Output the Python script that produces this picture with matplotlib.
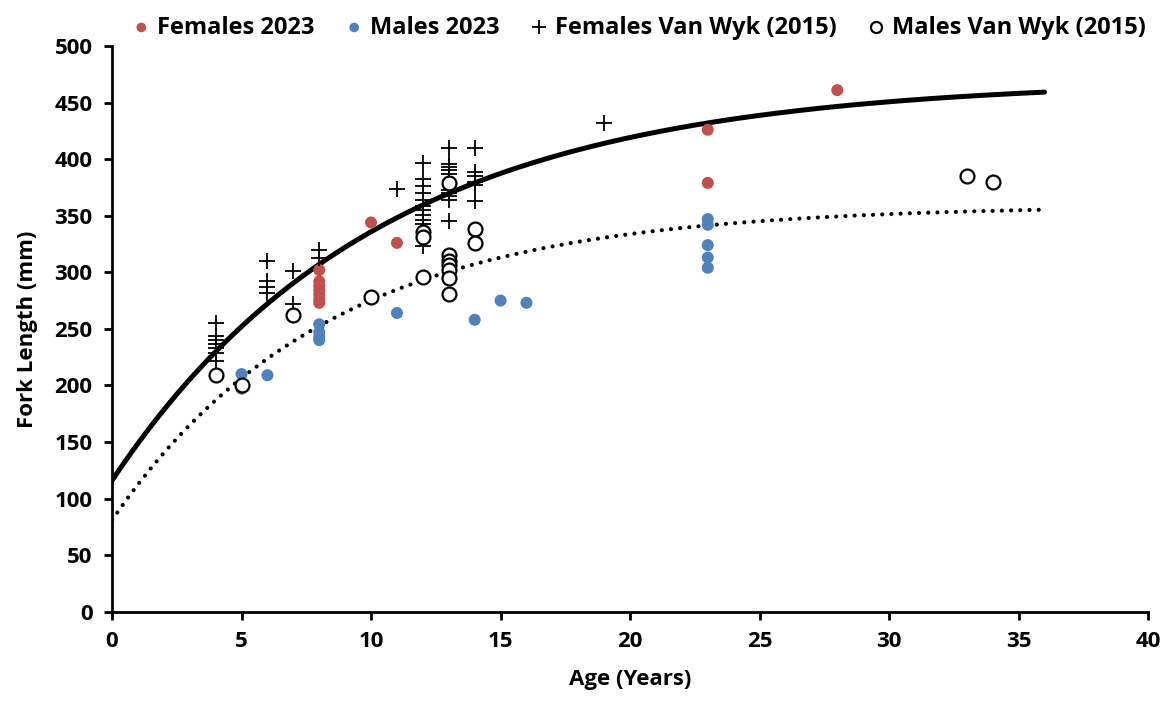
import numpy as np
import matplotlib
matplotlib.use("Agg")
import matplotlib.pyplot as plt

plt.rcParams['font.family'] = ['Open Sans', 'DejaVu Sans']
plt.rcParams['font.weight'] = 'bold'

# Females 2023
fem23_age = [8, 8, 8, 8, 8, 8, 8, 10, 11, 23, 23, 28]
fem23_len = [302, 292, 288, 284, 280, 276, 273, 344, 326, 426, 379, 461]

# Males 2023
mal23_age = [5, 5, 6, 8, 8, 8, 8, 11, 14, 15, 16, 23, 23, 23, 23, 23]
mal23_len = [210, 197, 209, 254, 247, 243, 240, 264, 258, 275, 273, 347, 342, 324, 313, 304]

# Females Van Wyk (2015)
femvw_age = [4, 4, 4, 4, 4, 4, 4,
             6, 6, 6, 6,
             7, 7,
             8, 8,
             11,
             12, 12, 12, 12, 12, 12, 12, 12, 12, 12, 12,
             13, 13, 13, 13, 13, 13, 13, 13, 13, 13,
             14, 14, 14, 14, 14, 14,
             19]
femvw_len = [255, 244, 240, 237, 233, 229, 222,
             310, 292, 287, 282,
             301, 272,
             320, 313,
             374,
             397, 382, 376, 370, 364, 359, 355, 351, 346, 343, 323,
             410, 396, 393, 390, 387, 373, 370, 367, 364, 345,
             410, 389, 385, 380, 377, 363,
             432]

# Males Van Wyk (2015)
malvw_age = [4, 5, 7, 10, 12, 12, 12, 13, 13, 13, 13, 13, 13, 13, 14, 14, 33, 34]
malvw_len = [209, 200, 262, 278, 336, 331, 296, 379, 315, 310, 306, 302, 295, 281, 338, 326, 385, 380]

# von Bertalanffy growth curves (L_inf, K, L at age 0)
fem_linf, fem_k, fem_l0 = 470, 0.097, 116
mal_linf, mal_k, mal_l0 = 359, 0.12, 81

t = np.linspace(0, 36, 300)
fem_curve = fem_linf - (fem_linf - fem_l0) * np.exp(-fem_k * t)
mal_curve = mal_linf - (mal_linf - mal_l0) * np.exp(-mal_k * t)

fig = plt.figure(figsize=(11.72, 7.01), dpi=100)
ax = fig.add_axes([0.0956, 0.1274, 0.884, 0.807])

ax.plot(t, fem_curve, color='black', lw=3.6, solid_capstyle='round', zorder=2)
ax.plot(t, mal_curve, color='black', lw=3.0, linestyle=(0, (0.01, 2.2)),
        dash_capstyle='round', zorder=2)

ax.scatter(fem23_age, fem23_len, s=75, color='#C0504D', edgecolors='none',
           label='Females 2023', zorder=3)
ax.scatter(mal23_age, mal23_len, s=75, color='#4F81BD', edgecolors='none',
           label='Males 2023', zorder=3)
ax.scatter(femvw_age, femvw_len, s=140, marker='+', color='black', linewidths=1.3,
           label='Females Van Wyk (2015)', zorder=4)
ax.scatter(malvw_age, malvw_len, s=100, marker='o', facecolors='white',
           edgecolors='black', linewidths=1.6, label='Males Van Wyk (2015)', zorder=5)

ax.set_xlim(0, 40)
ax.set_ylim(0, 500)
ax.set_xticks(np.arange(0, 41, 5))
ax.set_yticks(np.arange(0, 501, 50))
for s in ['top', 'right']:
    ax.spines[s].set_visible(False)
for s in ['left', 'bottom']:
    ax.spines[s].set_linewidth(2.0)
ax.tick_params(axis='both', direction='out', length=6, width=2.0, labelsize=16, pad=8)
for lab in ax.get_xticklabels() + ax.get_yticklabels():
    lab.set_fontweight('bold')

ax.set_xlabel('Age (Years)', fontsize=16, fontweight='bold', labelpad=12)
ax.set_ylabel('Fork Length (mm)', fontsize=16, fontweight='bold', labelpad=12)

leg = fig.legend(loc='upper center', bbox_to_anchor=(0.545, 1.008), ncol=4, frameon=False,
                 fontsize=17, handlelength=0.8, handletextpad=0.25, columnspacing=1.3,
                 markerscale=0.8)
for txt in leg.get_texts():
    txt.set_fontweight('bold')

fig.savefig('out.png', dpi=100)
